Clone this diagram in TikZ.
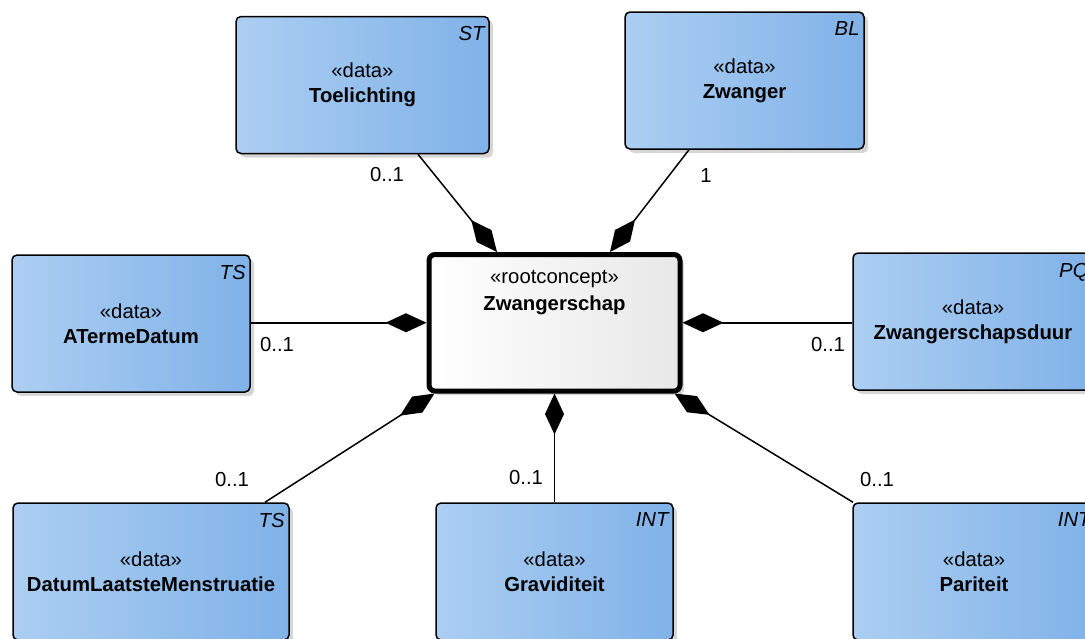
\documentclass[tikz,border=0pt]{standalone}
\usepackage{fontspec}
\setmainfont{Liberation Sans}
\usetikzlibrary{arrows.meta,shadows,calc}
\definecolor{boxL}{RGB}{172,206,242}
\definecolor{boxR}{RGB}{128,178,232}
\definecolor{shadowgray}{RGB}{214,214,214}
\begin{document}
\begin{tikzpicture}[x=1pt,y=-1pt,
  every node/.style={font=\fontsize{20.3pt}{25pt}\selectfont},
  databox/.style={draw=black, line width=1.5pt, rounded corners=5pt,
    left color=boxL, right color=boxR, minimum height=137pt, inner sep=0pt,
    align=center,
    general shadow={fill=shadowgray, shadow xshift=4pt, shadow yshift=-4pt}},
  rootbox/.style={draw=black, line width=5pt, rounded corners=6pt,
    left color=white, right color=black!9, minimum width=251pt,
    minimum height=136.5pt, inner sep=0pt,
    general shadow={fill=shadowgray, shadow xshift=4pt, shadow yshift=-4pt}},
  tag/.style={anchor=north east, inner sep=0pt,
    font=\fontsize{20.3pt}{25pt}\selectfont\itshape},
  mult/.style={inner sep=0pt},
  comp/.style={line width=1.5pt, -{Diamond[length=41pt,width=19pt]}}
]
\useasboundingbox (0,0) rectangle (1085,638);
\clip (0,0) rectangle (1085,638);

% data boxes
\node[databox, minimum width=253pt] (toel) at (362.5,85) {«data»\\\textbf{Toelichting}};
\node[tag] (toelT) at ($(toel.north east)+(-5,10.5)$) {ST};

\node[databox, minimum width=239pt] (zw) at (744.5,80.5) {«data»\\\textbf{Zwanger}};
\node[tag] (zwT) at ($(zw.north east)+(-5,10.5)$) {BL};

\node[databox, minimum width=238pt] (at) at (131,323.5) {«data»\\\textbf{ATermeDatum}};
\node[tag] (atT) at ($(at.north east)+(-5,10.5)$) {TS};

\node[databox, minimum width=240pt] (zd) at (973,321.5) {«data»\\\textbf{Zwangerschapsduur}};
\node[tag] (zdT) at ($(zd.north east)+(-5,10.5)$) {PQ};

\node[databox, minimum width=276pt] (dlm) at (151,571.5) {«data»\\\textbf{DatumLaatsteMenstruatie}};
\node[tag] (dlmT) at ($(dlm.north east)+(-5,10.5)$) {TS};

\node[databox, minimum width=237pt] (gr) at (554.5,571.5) {«data»\\\textbf{Graviditeit}};
\node[tag] (grT) at ($(gr.north east)+(-5,10.5)$) {INT};

\node[databox, minimum width=242pt] (pa) at (974,571.5) {«data»\\\textbf{Pariteit}};
\node[tag] (paT) at ($(pa.north east)+(-5,10.5)$) {INT};

% root concept
\node[rootbox] (root) at (554.5,322.75) {};
\node[mult] (rootS) at (554.5,279.5) {«rootconcept»};
\node[mult] (rootN) at (554.5,305) {\textbf{Zwangerschap}};

% composition connectors
\draw[comp] ([xshift=55.5pt]toel.south) -- ([xshift=-57.5pt]root.north);
\draw[comp] ([xshift=-55.5pt]zw.south) -- ([xshift=55.5pt]root.north);
\draw[comp] (at.east |- root.west) -- (root.west);
\draw[comp] (zd.west |- root.east) -- (root.east);
\draw[comp] ([xshift=114pt]dlm.north) -- ([xshift=-120pt]root.south);
\draw[comp] (gr.north) -- (root.south);
\draw[comp] ([xshift=-121pt]pa.north) -- ([xshift=120pt]root.south);

% multiplicities
\node[mult] (m1) at (387,175) {0..1};
\node[mult] (m2) at (706,176) {1};
\node[mult] (m3) at (277,345) {0..1};
\node[mult] (m4) at (828,345) {0..1};
\node[mult] (m5) at (232,480) {0..1};
\node[mult] (m6) at (526,478) {0..1};
\node[mult] (m7) at (877,480) {0..1};
\end{tikzpicture}
\end{document}
